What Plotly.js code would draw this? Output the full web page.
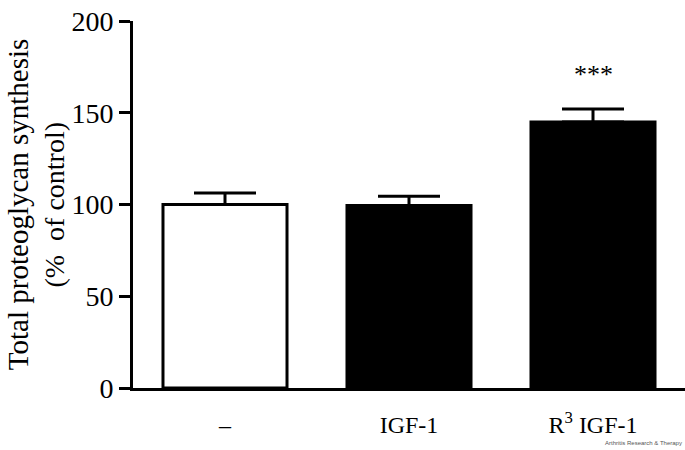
<!DOCTYPE html>
<html>
<head>
<meta charset="utf-8">
<script src="https://cdn.plot.ly/plotly-3.0.1.min.js"></script>
<style>html,body{margin:0;padding:0;background:#fff;}#chart{width:685px;height:450px;}</style>
</head>
<body>
<div id="chart"></div>
<script>
const categories = ["–", "IGF-1", "R<sup>3</sup> IGF-1"];
const values = [100, 99.5, 145];
const errorsUp = [6.3, 5, 7];
const barColors = ["#ffffff", "#000000", "#000000"];
const yTicks = [0, 50, 100, 150, 200];
const significance = ["", "", "***"];
const yTitleLine1 = "Total proteoglycan synthesis";
const yTitleLine2 = "(%\u00a0 of control)";

const serif = "Liberation Serif";

const trace = {
  type: "bar",
  x: [0, 1, 2],
  y: values,
  marker: { color: barColors, line: { color: "#000", width: 3 } },
  error_y: { type: "data", symmetric: false, array: errorsUp, arrayminus: [0, 0, 0],
             color: "#000", thickness: 3, width: 31 },
  hoverinfo: "none"
};

const annotations = [];
significance.forEach((s, i) => {
  if (s) annotations.push({ x: i, y: values[i] + errorsUp[i] + 19, xref: "x", yref: "y",
    text: s, showarrow: false, font: { family: serif, size: 26, color: "#000" }, yanchor: "middle" });
});
annotations.push({ xref: "paper", yref: "paper", x: -0.209, y: 0.5, text: yTitleLine1, textangle: -90,
  showarrow: false, xanchor: "center", yanchor: "middle", font: { family: serif, size: 29, color: "#000" } });
annotations.push({ xref: "paper", yref: "paper", x: -0.143, y: 0.5, text: yTitleLine2, textangle: -90,
  showarrow: false, xanchor: "center", yanchor: "middle", font: { family: serif, size: 28, color: "#000" } });
annotations.push({ xref: "paper", yref: "paper", x: 0.998, y: -0.150, xanchor: "right", yanchor: "middle",
  text: "Arthritis Research & Therapy", showarrow: false,
  font: { family: "Liberation Sans", size: 6, color: "#555" } });

const layout = {
  width: 685, height: 450,
  margin: { l: 133, r: 0, t: 21, b: 62 },
  paper_bgcolor: "#fff", plot_bgcolor: "#fff",
  showlegend: false,
  bargap: 0.326,
  xaxis: {
    range: [-0.5, 2.5], tickmode: "array", tickvals: [0, 1, 2], ticktext: categories,
    showline: true, linecolor: "#000", linewidth: 3, ticks: "", showgrid: false, zeroline: false,
    tickfont: { family: serif, size: 24, color: "#000" }, ticklabelstandoff: 13, fixedrange: true
  },
  yaxis: {
    range: [0, 200], tickmode: "array", tickvals: yTicks, ticktext: yTicks.map(String),
    showline: true, linecolor: "#000", linewidth: 3, ticks: "outside", ticklen: 11, tickwidth: 3,
    tickcolor: "#000", showgrid: false, zeroline: false, ticklabelstandoff: 0,
    tickfont: { family: serif, size: 28, color: "#000" }, fixedrange: true
  },
  annotations: annotations
};

Plotly.newPlot("chart", [trace], layout, { displayModeBar: false, staticPlot: true });
</script>
</body>
</html>
